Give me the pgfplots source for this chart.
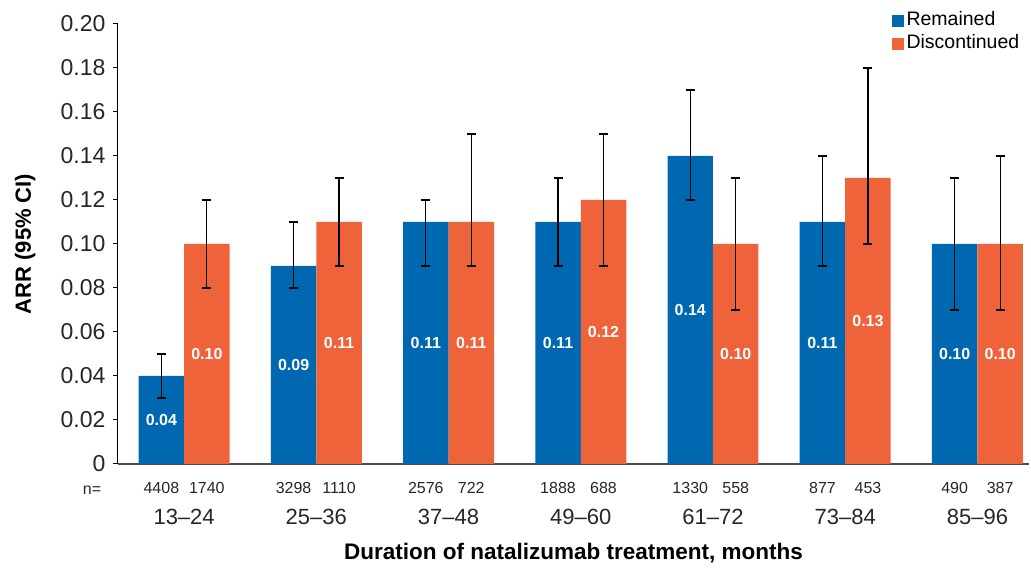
\documentclass[border=0pt]{standalone}
\usepackage{pgfplots}
\pgfplotsset{compat=1.18}
\usepackage{fontspec}
\setmainfont{Liberation Sans}
\definecolor{remblue}{RGB}{0,103,177}
\definecolor{disorange}{RGB}{238,99,57}
\begin{document}
\begin{tikzpicture}
\begin{axis}[
  scale only axis, clip=false,
  width=911pt, height=440pt,
  xmin=-0.5, xmax=6.39,
  ymin=0, ymax=0.2,
  axis x line*=bottom, axis y line*=left,
  x axis line style={draw=black!70, line width=1.3pt},
  y axis line style={draw=black, line width=1pt},
  /pgf/number format/assume math mode=true,
  ytick={0,0.02,0.04,0.06,0.08,0.1,0.12,0.14,0.16,0.18,0.2},
  yticklabels={0,0.02,0.04,0.06,0.08,0.10,0.12,0.14,0.16,0.18,0.20},
  tick align=outside, major tick length=5pt,
  ytick style={draw=black, line width=1pt},
  yticklabel style={font=\fontsize{23}{25}\selectfont, text=black!85, xshift=-4pt},
  xtick={-0.172,0.172,0.828,1.172,1.828,2.172,2.828,3.172,3.828,4.172,4.828,5.172,5.828,6.172},
  xticklabels={4408,1740,3298,1110,2576,722,1888,688,1330,558,877,453,490,387},
  xtick style={draw=none},
  xticklabel style={font=\fontsize{16}{18}\selectfont, anchor=center, yshift=-19pt, text=black!85},
  extra x ticks={0,1,2,3,4,5,6},
  extra x tick labels={13--24,25--36,37--48,49--60,61--72,73--84,85--96},
  extra x tick style={xtick style={draw=none}, xticklabel style={font=\fontsize{22}{24}\selectfont, yshift=-29pt}},
  xlabel={\textbf{Duration of natalizumab treatment, months}},
  ylabel={\textbf{ARR (95\% CI)}},
  every axis x label/.style={at={(axis description cs:0.5,-0.202)}, anchor=center, font=\fontsize{22.5}{24}\selectfont},
  every axis y label/.style={at={(axis description cs:-0.102,0.5)}, anchor=center, rotate=90, font=\fontsize{22}{24}\selectfont},
  legend style={at={(axis description cs:0.9923,1.029)}, anchor=north east, draw=none, fill=none,
    font=\fontsize{19.5}{21}\selectfont, row sep=3.5pt, inner sep=0pt,
    nodes={inner xsep=2.5pt, inner ysep=1pt, text height=13.5pt, text depth=4pt}},
  legend cell align=left,
  error bars/y dir=both, error bars/y explicit,
  error bars/error bar style={draw=black, line width=1.2pt},
  error bars/error mark options={draw=black, line width=1.2pt, mark size=4.5pt, rotate=90},
  nodes near coords,
  point meta=explicit symbolic,
  visualization depends on={\thisrow{y} \as \rawy},
  every node near coord/.append style={anchor=center, text=white, font=\bfseries\fontsize{16}{18}\selectfont, yshift={-1100pt*\rawy}},
]
\addplot[ybar, bar width=0.344, bar shift=0, fill=remblue, draw=none,
  legend image code/.code={\fill[remblue] (0pt,-6pt) rectangle (12pt,6pt);}]
  table[x=x, y=y, y error plus=ep, y error minus=em, meta=lab] {
x y ep em lab
-0.172 0.04 0.01 0.01 0.04
0.828 0.09 0.02 0.01 0.09
1.828 0.11 0.01 0.02 0.11
2.828 0.11 0.02 0.02 0.11
3.828 0.14 0.03 0.02 0.14
4.828 0.11 0.03 0.02 0.11
5.828 0.10 0.03 0.03 0.10
};
\addlegendentry{Remained}
\addplot[ybar, bar width=0.344, bar shift=0, fill=disorange, draw=none,
  legend image code/.code={\fill[disorange] (0pt,-6pt) rectangle (12pt,6pt);}]
  table[x=x, y=y, y error plus=ep, y error minus=em, meta=lab] {
x y ep em lab
0.172 0.10 0.02 0.02 0.10
1.172 0.11 0.02 0.02 0.11
2.172 0.11 0.04 0.02 0.11
3.172 0.12 0.03 0.03 0.12
4.172 0.10 0.03 0.03 0.10
5.172 0.13 0.05 0.03 0.13
6.172 0.10 0.04 0.03 0.10
};
\addlegendentry{Discontinued}
\node[font=\fontsize{16}{18}\selectfont, text=black!85, anchor=center] at (axis cs:-0.5,0) [xshift=-26pt, yshift=-26pt] {n=};
\end{axis}
\pgfresetboundingbox
\path ([shift={(-118pt,-106pt)}]current axis.south west) rectangle ([shift={(2pt,24pt)}]current axis.north east);
\end{tikzpicture}
\end{document}
